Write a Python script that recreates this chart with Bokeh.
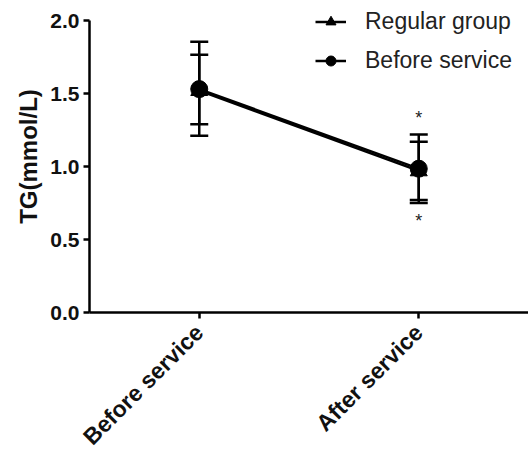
from math import pi
from bokeh.plotting import figure
from bokeh.models import (FactorRange, Range1d, Whisker, ColumnDataSource, Legend,
                          LegendItem, FixedTicker, TeeHead, PrintfTickFormatter)
from bokeh.core.properties import value
from bokeh.embed import file_html
from bokeh.resources import INLINE

categories = ["Before service", "After service"]
y_ticks = [0.0, 0.5, 1.0, 1.5, 2.0]

regular_mean = [1.52, 0.97]
regular_upper = [1.855, 1.22]
regular_lower = [1.21, 0.75]

service_mean = [1.53, 0.985]
service_upper = [1.765, 1.17]
service_lower = [1.29, 0.77]

star_x = ["After service", "After service"]
star_y = [1.33, 0.63]

FONT = "Liberation Sans"

p = figure(x_range=FactorRange(factors=categories, range_padding=0),
           y_range=Range1d(0, 2.137),
           frame_width=439, frame_height=312,
           min_border_left=89, min_border_right=0, min_border_top=0, min_border_bottom=0,
           output_backend="svg", toolbar_location=None)
p.grid.visible = False
p.outline_line_color = None
p.background_fill_color = "white"
p.border_fill_color = "white"

for ax in (p.xaxis[0], p.yaxis[0]):
    ax.axis_line_width = 2.5
    ax.axis_line_color = "black"
    ax.major_tick_line_width = 2.5
    ax.major_tick_line_color = "black"
    ax.major_tick_in = 0
    ax.major_tick_out = 6
    ax.minor_tick_line_color = None
    ax.major_label_text_font = FONT
    ax.major_label_text_font_style = "bold"
    ax.major_label_text_color = "#111111"

p.yaxis.ticker = FixedTicker(ticks=y_ticks)
p.yaxis.bounds = (y_ticks[0], y_ticks[-1])
p.yaxis.formatter = PrintfTickFormatter(format="%.1f")
p.yaxis.major_label_text_font_size = "21px"
p.yaxis.major_label_standoff = 4
p.yaxis.axis_label = "TG(mmol/L)"
p.yaxis.axis_label_text_font = FONT
p.yaxis.axis_label_text_font_style = "bold"
p.yaxis.axis_label_text_font_size = "24px"
p.yaxis.axis_label_standoff = 5
p.yaxis.axis_label_text_color = "#111111"

p.xaxis.major_label_orientation = pi / 4
p.xaxis.major_label_text_font_size = "23px"
p.xaxis.major_label_standoff = 10

head = dict(size=18, line_width=2.5, line_color="black")
src_r = ColumnDataSource(dict(x=categories, upper=regular_upper, lower=regular_lower))
src_s = ColumnDataSource(dict(x=categories, upper=service_upper, lower=service_lower))
for src in (src_r, src_s):
    p.add_layout(Whisker(source=src, base="x", upper="upper", lower="lower",
                         line_width=2.5, line_color="black",
                         upper_head=TeeHead(**head), lower_head=TeeHead(**head)))

lr = p.line(categories, regular_mean, line_width=2.5, color="black")
mr = p.scatter(categories, regular_mean, marker="triangle", size=17, color="black")
ls = p.line(categories, service_mean, line_width=2.5, color="black")
ms = p.scatter(categories, service_mean, marker="circle", size=17, color="black")

p.text(x=star_x, y=star_y, text=["*", "*"], text_align="center", text_baseline="middle",
       text_font=value(FONT), text_font_size="18px", text_color="#222222")

legend = Legend(items=[LegendItem(label="Regular group", renderers=[lr, mr]),
                       LegendItem(label="Before service", renderers=[ls, ms])],
                location=(226, 238), padding=0, margin=0, spacing=12,
                glyph_width=31, glyph_height=25, label_height=25, label_standoff=19,
                label_text_font=FONT, label_text_font_size="23px", label_text_color="#222222",
                border_line_color=None, background_fill_alpha=0)
p.add_layout(legend)

open("out.html", "w").write(file_html(p, INLINE))
